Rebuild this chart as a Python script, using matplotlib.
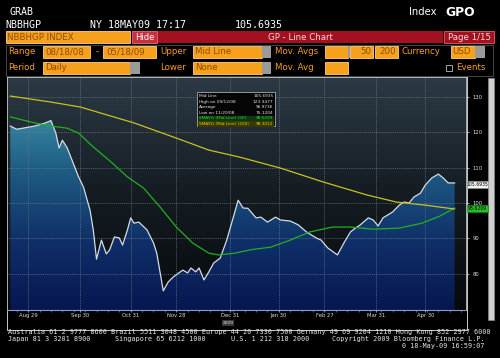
import numpy as np
import pandas as pd
import matplotlib
matplotlib.use('Agg')
import matplotlib.pyplot as plt
import matplotlib.dates as mdates
from matplotlib.patches import Rectangle
from matplotlib.colors import LinearSegmentedColormap

# ---- data ----
mid_dates = ['2008-08-18', '2008-08-22', '2008-09-02', '2008-09-08', '2008-09-12', '2008-09-15',
             '2008-09-17', '2008-09-19', '2008-09-22', '2008-09-29', '2008-10-02', '2008-10-06',
             '2008-10-08', '2008-10-10', '2008-10-13', '2008-10-16', '2008-10-18', '2008-10-21',
             '2008-10-24', '2008-10-26', '2008-10-29', '2008-10-31', '2008-11-02', '2008-11-05',
             '2008-11-10', '2008-11-14', '2008-11-16', '2008-11-18', '2008-11-20', '2008-11-23',
             '2008-11-26', '2008-12-02', '2008-12-05', '2008-12-07', '2008-12-10', '2008-12-12',
             '2008-12-15', '2008-12-18', '2008-12-21', '2008-12-25', '2008-12-29', '2009-01-01',
             '2009-01-03', '2009-01-05', '2009-01-08', '2009-01-11', '2009-01-16', '2009-01-19',
             '2009-01-23', '2009-01-28', '2009-01-31', '2009-02-06', '2009-02-11', '2009-02-16',
             '2009-02-22', '2009-02-25', '2009-03-01', '2009-03-07', '2009-03-11', '2009-03-15',
             '2009-03-18', '2009-03-21', '2009-03-26', '2009-03-29', '2009-04-01', '2009-04-04',
             '2009-04-10', '2009-04-14', '2009-04-17', '2009-04-20', '2009-04-23', '2009-04-27',
             '2009-04-30', '2009-05-04', '2009-05-08', '2009-05-11', '2009-05-14', '2009-05-18']
mid_vals = [121.8, 120.9, 121.8, 122.6, 123.35, 119.8, 115.6, 117.8, 115.6, 107.4, 104.5, 98.0,
            92.4, 84.1, 89.5, 85.6, 86.7, 90.4, 90.1, 88.1, 92.4, 95.8, 94.3, 94.6,
            92.4, 88.7, 85.8, 80.5, 75.12, 77.6, 79.0, 81.0, 80.2, 81.6, 80.5, 81.6,
            78.2, 80.5, 83.0, 84.4, 89.5, 94.3, 97.5, 100.8, 98.6, 98.5, 95.8, 96.0,
            94.6, 96.0, 95.2, 94.9, 93.8, 91.8, 90.1, 89.5, 87.3, 85.3, 88.7, 91.8,
            92.9, 93.8, 95.8, 95.2, 93.5, 95.8, 97.5, 99.4, 100.3, 100.0, 101.7, 102.8,
            105.1, 107.1, 108.2, 107.1, 105.7, 105.69]

ma50_dates = ['2008-08-18', '2008-09-02', '2008-09-12', '2008-09-22', '2008-09-29', '2008-10-08',
              '2008-10-19', '2008-10-29', '2008-11-08', '2008-11-18', '2008-11-28', '2008-12-08',
              '2008-12-18', '2008-12-24', '2009-01-03', '2009-01-13', '2009-01-25', '2009-02-06',
              '2009-02-18', '2009-03-04', '2009-03-15', '2009-03-29', '2009-04-14', '2009-04-28',
              '2009-05-09', '2009-05-18']
ma50_vals = [124.4, 122.7, 121.8, 121.2, 119.8, 115.9, 111.6, 107.4, 104.2, 98.9, 93.2, 88.7,
             85.8, 85.3, 85.8, 86.8, 87.5, 89.5, 91.8, 93.2, 93.2, 92.6, 92.9, 94.3,
             96.3, 98.62]

ma200_dates = ['2008-08-18', '2008-09-12', '2008-09-30', '2008-11-02', '2008-11-28', '2008-12-18',
               '2009-01-06', '2009-01-31', '2009-02-26', '2009-03-25', '2009-04-12', '2009-04-30',
               '2009-05-18']
ma200_vals = [130.3, 128.6, 127.2, 122.7, 118.4, 115.0, 113.0, 109.9, 106.0, 102.3, 100.3, 99.4,
              98.3]

tick_dates = ['2008-08-29', '2008-09-30', '2008-10-31', '2008-11-28', '2008-12-31',
              '2009-01-30', '2009-02-27', '2009-03-31', '2009-04-30']
y_ticks = [80, 90, 100, 110, 120, 130]

legend_rows = [('Mid Line', '105.6935'), ('High on 09/12/08', '123.3477'),
               ('Average', '96.9736'), ('Low on 11/20/08', '75.1204'),
               ('SMAVG (Mid Line) (50)', '98.6209'), ('SMAVG (Mid Line) (200)', '98.3012')]

ORANGE = '#f7a01c'
OTXT = '#8a4a00'
RED = '#a3101f'
GREEN = '#22b022'
YELLOW = '#c9c21e'

W, H = 500, 358
fig = plt.figure(figsize=(W / 100, H / 100), dpi=100, facecolor='black')

# full-figure overlay in pixel coordinates
ov = fig.add_axes([0, 0, 1, 1], zorder=0)
ov.set_xlim(0, W)
ov.set_ylim(H, 0)
ov.axis('off')
ov.set_facecolor('black')


def box(a, x0, y0, x1, y1, fc, ec='none', lw=0.6, z=2):
    a.add_patch(Rectangle((x0, y0), x1 - x0, y1 - y0, facecolor=fc, edgecolor=ec, lw=lw, zorder=z))


def txt(a, x, y, s, c='white', size=6.2, ha='left', fam='DejaVu Sans', weight='normal', z=3):
    a.text(x, y, s, color=c, fontsize=size, ha=ha, va='center', family=fam, weight=weight, zorder=z)


# header
txt(ov, 10, 12, 'GRAB', size=7.2, fam='DejaVu Sans Mono')
txt(ov, 5, 25, 'NBBHGP', size=7.2, fam='DejaVu Sans Mono')
txt(ov, 90, 25, 'NY 18MAY09 17:17', size=7.2, fam='DejaVu Sans Mono')
txt(ov, 235, 25, '105.6935', size=7.2, fam='DejaVu Sans Mono')
txt(ov, 409, 12, 'Index', size=7.2)
txt(ov, 445, 12, 'GPO', size=8.8, weight='bold')

# row 1
box(ov, 6, 31, 130, 43, ORANGE, ec='#ffd08a')
txt(ov, 7, 37, 'NBBHGP INDEX', c=OTXT, size=6.2)
box(ov, 132, 31, 157, 43, '#c8303e', ec='#e07080')
txt(ov, 144.5, 37, 'Hide', size=6.0, ha='center')
box(ov, 158, 31, 443, 43, RED)
txt(ov, 300, 37, 'GP - Line Chart', c='#f4dada', size=6.2, ha='center')
box(ov, 444, 31, 494, 43, RED, ec='#e06070')
txt(ov, 469, 37, 'Page 1/15', c='#f4dada', size=6.2, ha='center')

# rows 2 and 3
box(ov, 6, 45, 493, 76, 'none', ec='#505050', lw=0.6, z=1)
r2, r3 = 52, 68
txt(ov, 8, r2, 'Range', c=ORANGE)
box(ov, 43, r2 - 6, 90, r2 + 6, ORANGE, ec='#ffd08a')
txt(ov, 45, r2, '08/18/08', c=OTXT)
txt(ov, 97, r2, '-', c=ORANGE, ha='center')
box(ov, 103, r2 - 6, 156, r2 + 6, ORANGE, ec='#ffd08a')
txt(ov, 106, r2, '05/18/09', c=OTXT)
txt(ov, 160, r2, 'Upper', c=ORANGE)
box(ov, 193, r2 - 6, 262, r2 + 6, ORANGE, ec='#ffd08a')
box(ov, 262, r2 - 6, 271, r2 + 6, '#9a9a9a')
txt(ov, 195, r2, 'Mid Line', c=OTXT)
txt(ov, 275, r2, 'Mov. Avgs', c=ORANGE)
box(ov, 325, r2 - 6, 348, r2 + 6, ORANGE, ec='#ffd08a')
box(ov, 348, r2 - 6, 350, r2 + 6, '#9a9a9a')
box(ov, 350, r2 - 6, 373, r2 + 6, ORANGE, ec='#ffd08a')
txt(ov, 371, r2, '50', c=OTXT, ha='right')
box(ov, 375, r2 - 6, 398, r2 + 6, ORANGE, ec='#ffd08a')
txt(ov, 396, r2, '200', c=OTXT, ha='right')
txt(ov, 402, r2, 'Currency', c=ORANGE)
box(ov, 451, r2 - 6, 475, r2 + 6, ORANGE, ec='#ffd08a')
box(ov, 475, r2 - 6, 485, r2 + 6, '#9a9a9a')
txt(ov, 452, r2, 'USD', c=OTXT)

txt(ov, 8, r3, 'Period', c=ORANGE)
box(ov, 43, r3 - 6, 130, r3 + 6, ORANGE, ec='#ffd08a')
box(ov, 130, r3 - 6, 140, r3 + 6, '#9a9a9a')
txt(ov, 45, r3, 'Daily', c=OTXT)
txt(ov, 160, r3, 'Lower', c=ORANGE)
box(ov, 193, r3 - 6, 262, r3 + 6, ORANGE, ec='#ffd08a')
box(ov, 262, r3 - 6, 271, r3 + 6, '#9a9a9a')
txt(ov, 195, r3, 'None', c=OTXT)
txt(ov, 275, r3, 'Mov. Avg', c=ORANGE)
box(ov, 325, r3 - 6, 348, r3 + 6, ORANGE, ec='#ffd08a')
box(ov, 446, r3 - 3, 452, r3 + 3, 'black', ec='#bbbbbb')
txt(ov, 456, r3, 'Events', c=ORANGE)

# frame round the chart + date axis
ov.plot([7, 7, 467, 467], [77, 330, 330, 77], color='#c8c8c8', lw=0.7, zorder=2)
box(ov, 488, 78, 494, 320, '#cfcfcf', ec='#888888', lw=0.5)

# footer
mono = 'DejaVu Sans Mono'
txt(ov, 8, 332, 'Australia 61 2 9777 8600 Brazil 5511 3048 4500 Europe 44 20 7330 7500 '
    'Germany 49 69 9204 1210 Hong Kong 852 2977 6000', c='#e6e6e6', size=4.85, fam=mono)
txt(ov, 8, 339, 'Japan 81 3 3201 8900', c='#e6e6e6', size=4.85, fam=mono)
txt(ov, 115, 339, 'Singapore 65 6212 1000', c='#e6e6e6', size=4.85, fam=mono)
txt(ov, 231, 339, 'U.S. 1 212 318 2000', c='#e6e6e6', size=4.85, fam=mono)
txt(ov, 485, 339, 'Copyright 2009 Bloomberg Finance L.P.', c='#e6e6e6', size=4.85, fam=mono, ha='right')
txt(ov, 485, 346, '0 18-May-09 16:59:07', c='#e6e6e6', size=4.85, fam=mono, ha='right')

# ---- the chart ----
ax = fig.add_axes([7 / W, 1 - 310 / H, (466 - 7) / W, (310 - 77) / H], zorder=1)
x0 = mdates.date2num(pd.Timestamp('2008-08-16'))
x1 = mdates.date2num(pd.Timestamp('2009-05-25'))
y0, y1 = 69.7, 135.7

bg = LinearSegmentedColormap.from_list('bg', ['#07090b', '#141c22', '#2c3a45'])
ax.imshow(np.linspace(0, 1, 256).reshape(-1, 1), extent=[x0, x1, y0, y1], origin='lower',
          aspect='auto', cmap=bg, zorder=0)

md = mdates.date2num(pd.to_datetime(mid_dates))
poly = ax.fill_between(md, mid_vals, y0, color='none', lw=0)
fillcm = LinearSegmentedColormap.from_list('fill', ['#081650', '#0f2f68', '#1d5a82', '#3d91a8'])
im = ax.imshow(np.linspace(0, 1, 256).reshape(-1, 1), extent=[x0, x1, y0, 128], origin='lower',
               aspect='auto', cmap=fillcm, zorder=1)
im.set_clip_path(poly.get_paths()[0], transform=ax.transData)

ax.plot(md, mid_vals, color='#d4dce4', lw=0.9, zorder=4)
ax.plot(mdates.date2num(pd.to_datetime(ma50_dates)), ma50_vals, color=GREEN, lw=0.9, zorder=4)
ax.plot(mdates.date2num(pd.to_datetime(ma200_dates)), ma200_vals, color=YELLOW, lw=0.9, zorder=4)

ax.set_xlim(x0, x1)
ax.set_ylim(y0, y1)
ax.set_xticks(mdates.date2num(pd.to_datetime(tick_dates)))
ax.set_xticklabels([pd.Timestamp(d).strftime('%b %d').replace(' 0', ' ') for d in tick_dates])
ax.xaxis.set_minor_locator(mdates.WeekdayLocator(byweekday=mdates.FR))
ax.set_yticks(y_ticks)
ax.yaxis.tick_right()
ax.tick_params(axis='x', which='major', colors='#dddddd', labelsize=3.8, length=1.5, width=0.5, pad=0.6)
ax.tick_params(axis='x', which='minor', colors='#aaaaaa', length=1.2, width=0.4)
ax.tick_params(axis='y', colors='#dddddd', labelsize=3.8, length=2.5, width=0.5, pad=2)
ax.grid(True, which='major', color='#6d7880', lw=0.5, ls=(0, (1.5, 1.5)), zorder=2)
for s in ['top', 'left', 'right']:
    ax.spines[s].set_color('#c8c8c8')
    ax.spines[s].set_linewidth(0.6)
ax.spines['bottom'].set_color('#8a9ad0')
ax.spines['bottom'].set_linewidth(0.8)

# top overlay: legend box, last-value tags, year
ov2 = fig.add_axes([0, 0, 1, 1], zorder=3)
ov2.set_xlim(0, W)
ov2.set_ylim(H, 0)
ov2.axis('off')
ov2.patch.set_alpha(0)

box(ov2, 197, 92, 275, 126, '#050505', ec='#a8a8a8', lw=0.6)
row_cols = ['#e8e8e8', '#e8e8e8', '#e8e8e8', '#e8e8e8', '#2ed02e', '#d8d020']
row_bg = [None, None, None, None, '#0d3a0d', '#3a3800']
for i, (lab, val) in enumerate(legend_rows):
    yy = 96 + i * 5.6
    if row_bg[i]:
        box(ov2, 198, yy - 2.6, 274, yy + 2.6, row_bg[i], z=3)
    txt(ov2, 199, yy, lab, c=row_cols[i], size=3.1, z=4)
    txt(ov2, 273.5, yy, val, c=row_cols[i], size=3.1, ha='right', z=4)

box(ov2, 467, 181, 488, 188, '#f0f0f0', ec='#999999', lw=0.4)
txt(ov2, 477.5, 184.5, '105.6935', c='black', size=3.3, ha='center', z=4)
box(ov2, 467, 205, 488, 212, '#22c022', ec='#118811', lw=0.4)
txt(ov2, 477.5, 208.5, '98.6209', c='black', size=3.3, ha='center', z=4)

box(ov2, 222, 320, 234, 326, '#3a3a3a')
txt(ov2, 228, 323, '2009', c='#e0e0e0', size=3.2, ha='center', z=4)

fig.savefig('out.png', dpi=100, facecolor='black')
